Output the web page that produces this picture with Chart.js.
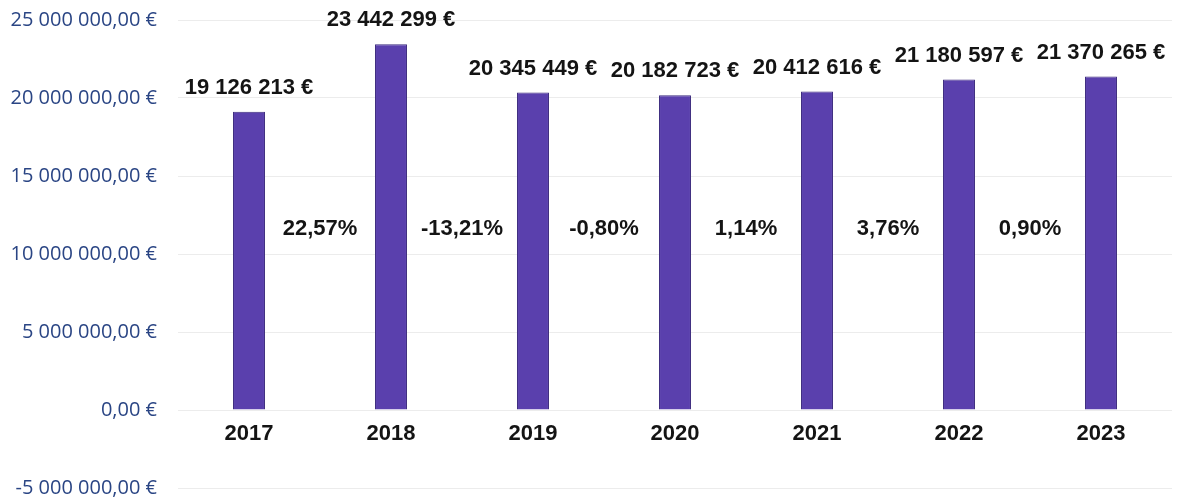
<!DOCTYPE html>
<html>
<head>
<meta charset="utf-8">
<script src="https://cdn.jsdelivr.net/npm/chart.js@4"></script>
<style>
  html, body { margin: 0; padding: 0; background: #ffffff; }
  #wrap { width: 1179px; height: 502px; position: relative; }
</style>
</head>
<body>
<div id="wrap"><canvas id="c" width="1179" height="502"></canvas></div>
<script>
const categories = ["2017", "2018", "2019", "2020", "2021", "2022", "2023"];
const revenues = [19126213, 23442299, 20345449, 20182723, 20412616, 21180597, 21370265];
const valueLabels = ["19 126 213 €", "23 442 299 €", "20 345 449 €", "20 182 723 €", "20 412 616 €", "21 180 597 €", "21 370 265 €"];
const changeLabels = ["22,57%", "-13,21%", "-0,80%", "1,14%", "3,76%", "0,90%"];
const changeLabelLevel = 11600000;
const yMin = -5000000, yMax = 25000000, yStep = 5000000;

function fmtTick(v) {
  const neg = v < 0;
  const s = Math.abs(v).toFixed(0).replace(/\B(?=(\d{3})+(?!\d))/g, " ");
  return (neg ? "-" : "") + s + ",00 €";
}

const labelPlugin = {
  id: "labels",
  afterDatasetsDraw(chart) {
    const ctx = chart.ctx;
    const xs = chart.scales.x, ys = chart.scales.y;
    ctx.save();
    ctx.fillStyle = "#141414";
    ctx.font = "bold 22px 'Liberation Sans', Arial, sans-serif";
    ctx.textAlign = "center";
    ctx.textBaseline = "middle";
    revenues.forEach((v, i) => {
      ctx.fillText(valueLabels[i], xs.getPixelForValue(i), ys.getPixelForValue(v) - 24);
    });
    changeLabels.forEach((t, i) => {
      const x = (xs.getPixelForValue(i) + xs.getPixelForValue(i + 1)) / 2;
      ctx.fillText(t, x, ys.getPixelForValue(changeLabelLevel));
    });
    categories.forEach((c, i) => {
      ctx.fillText(c, xs.getPixelForValue(i), ys.getPixelForValue(0) + 24);
    });
    ctx.restore();
  }
};

new Chart(document.getElementById("c"), {
  type: "bar",
  data: {
    labels: categories,
    datasets: [{
      data: revenues,
      backgroundColor: "#5a40ad",
      borderColor: "#3c2b7e",
      borderWidth: 1,
      barPercentage: 0.225,
      categoryPercentage: 1.0
    }]
  },
  options: {
    responsive: false,
    animation: false,
    layout: { padding: { top: 20, bottom: 14, left: 0, right: 7 } },
    plugins: { legend: { display: false }, tooltip: { enabled: false } },
    scales: {
      x: { display: false, offset: true },
      y: {
        min: yMin, max: yMax,
        afterFit(scale) { scale.width = 178; scale.paddingTop = 0; scale.paddingBottom = 0; },
        ticks: {
          stepSize: yStep,
          padding: 21,
          color: "#2a4584",
          font: { family: "'Open Sans', sans-serif", size: 20 },
          callback: (v) => fmtTick(v)
        },
        grid: { color: "#ececec", lineWidth: 1, drawTicks: false },
        border: { display: false }
      }
    }
  },
  plugins: [labelPlugin]
});
</script>
</body>
</html>
